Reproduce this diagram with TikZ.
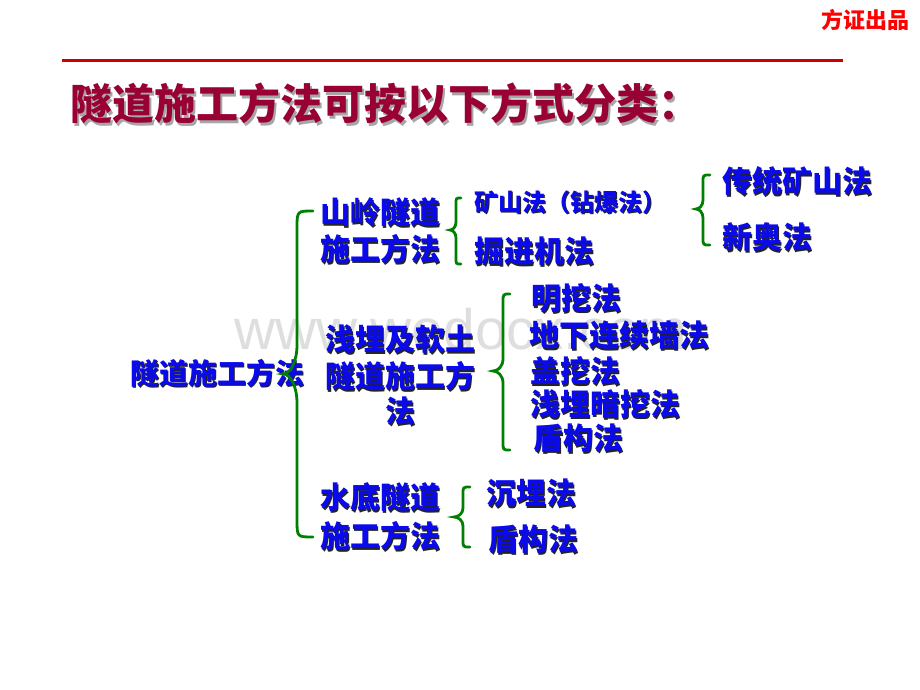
\documentclass[tikz,border=0pt]{standalone}
\usepackage{fontspec}
\newfontfamily\cjk{Noto Sans CJK SC}
\newfontfamily\marca{Liberation Sans}
\definecolor{azulTexto}{RGB}{10,10,235}
\definecolor{verdeLlave}{RGB}{0,128,0}
\definecolor{rojoLinea}{RGB}{204,0,0}
\definecolor{rojoTitulo}{RGB}{153,0,51}
\definecolor{sombra}{RGB}{35,35,35}
% texto con sombra: color, desplazamiento, texto
\newcommand{\sombreado}[3]{\makebox[0pt][l]{\hspace*{#2}\raisebox{-#2}{\textcolor{#1}{#3}}}#3}
\newcommand{\azul}[1]{\sombreado{sombra}{1.6pt}{#1}}
% llave: x extremo, x linea, x punta, y arriba, y punta, y abajo, radio extremo, radio punta
\newcommand{\llave}[8]{%
  \draw[llaveVerde] (#1,#4) .. controls (#2,#4) .. (#2,#4+#7)
    -- (#2,#5-#8) .. controls (#2,{#5-0.4*#8}) and ({#2-0.5*(#2-#3)},#5) .. (#3,#5)
    .. controls ({#2-0.5*(#2-#3)},#5) and (#2,{#5+0.4*#8}) .. (#2,#5+#8)
    -- (#2,#6-#7) .. controls (#2,#6) .. (#1,#6);}
\tikzset{
  metodo/.style={inner sep=0pt, anchor=west, text=azulTexto, font=\cjk\bfseries\fontsize{30}{36}\selectfont},
  metodoPeq/.style={metodo, font=\cjk\bfseries\fontsize{24}{29}\selectfont},
  llaveVerde/.style={draw=verdeLlave, line width=2.8pt, line cap=round}
}
\begin{document}
\begin{tikzpicture}[x=1pt,y=-1pt]
  \useasboundingbox (0,0) rectangle (920,690);

  \node[inner sep=0pt, text=black!13, font=\marca\fontsize{57}{60}\selectfont] (marcaDeAgua) at (461,329) {www.wodocx.com};

  \node[inner sep=0pt, text=red, font=\cjk\bfseries\fontsize{22}{26}\selectfont] (fangzhengChupin) at (865,20) {方证出品};
  \draw[rojoLinea, line width=3pt] (62,61) -- (843,61);
  \node[inner sep=0pt, anchor=west, text=rojoTitulo, font=\cjk\bfseries\fontsize{42}{50}\selectfont] (titulo) at (70,105) {\sombreado{black!35}{2.5pt}{隧道施工方法可按以下方式分类：}};

  \node[metodo, font=\cjk\bfseries\fontsize{29}{35}\selectfont] (suidaoShigongFangfa) at (130,374) {\azul{隧道施工方法}};

  \node[metodo] (shanlingSuidao) at (320,213) {\azul{山岭隧道}};
  \node[metodo] (shanlingShigong) at (320,250) {\azul{施工方法}};
  \node[metodoPeq] (kuangshanFa) at (474,203) {\azul{矿山法（钻爆法）}};
  \node[metodo] (juejinjiFa) at (474,252) {\azul{掘进机法}};
  \node[metodo] (chuantongKuangshanFa) at (722,182) {\azul{传统矿山法}};
  \node[metodo] (xinaoFa) at (722,238) {\azul{新奥法}};

  \node[metodo] (qianmaiRuantu) at (325,340) {\azul{浅埋及软土}};
  \node[metodo] (qianmaiSuidao) at (325,377) {\azul{隧道施工方}};
  \node[metodo, anchor=center] (qianmaiFa) at (400,412) {\azul{法}};
  \node[metodo] (mingwaFa) at (531,299) {\azul{明挖法}};
  \node[metodo] (dixiaLianxuqiangFa) at (529,336) {\azul{地下连续墙法}};
  \node[metodo] (gaiwaFa) at (530,372) {\azul{盖挖法}};
  \node[metodo] (qianmaiAnwaFa) at (530,405) {\azul{浅埋暗挖法}};
  \node[metodo] (dungouFaA) at (533,439) {\azul{盾构法}};

  \node[metodo] (shuidiSuidao) at (320,498) {\azul{水底隧道}};
  \node[metodo] (shuidiShigong) at (320,537) {\azul{施工方法}};
  \node[metodo] (chenmaiFa) at (486,494) {\azul{沉埋法}};
  \node[metodo] (dungouFaB) at (488,540) {\azul{盾构法}};

  \llave{313}{297}{283}{211}{374}{537}{17}{29}
  \llave{461}{456}{450}{198}{230}{264}{6}{8}
  \llave{710}{703}{696}{175}{209}{245}{7}{9}
  \llave{510}{503}{493}{294}{371}{450}{8}{12}
  \llave{470}{463}{454}{487}{517}{547}{7}{9}
\end{tikzpicture}
\end{document}
